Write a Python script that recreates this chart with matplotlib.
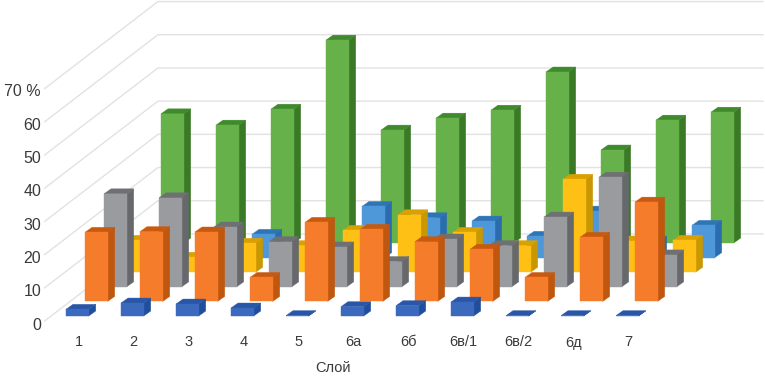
import matplotlib
matplotlib.use("Agg")
import matplotlib.pyplot as plt
from matplotlib.patches import Polygon

plt.rcParams['font.family'] = ['Liberation Sans', 'DejaVu Sans']

categories = ['1', '2', '3', '4', '5', '6а', '6б', '6в/1', '6в/2', '6д', '7']
axis_ticks = [0, 10, 20, 30, 40, 50, 60, 70]
axis_title = 'Слой'

# series, front to back
dark_blue = [2.0, 3.9, 3.6, 2.4, 0.1, 2.8, 3.1, 4.2, 0.1, 0.1, 0.1]
orange = [20.8, 21.0, 20.9, 7.2, 23.8, 21.7, 18.0, 15.7, 7.2, 19.3, 29.9]
gray = [28.0, 26.8, 18.0, 13.6, 12.0, 7.6, 14.4, 12.4, 21.0, 33.0, 9.6]
yellow = [9.6, 4.5, 8.7, 8.0, 12.6, 17.3, 12.0, 8.0, 28.0, 9.4, 9.6]
light_blue = [3.0, 3.0, 7.0, 3.0, 15.4, 12.0, 11.0, 6.4, 14.0, 5.0, 9.7]
green = [38.9, 35.5, 40.3, 61.1, 34.0, 37.6, 40.0, 51.5, 28.0, 37.0, 39.4]

series = [dark_blue, orange, gray, yellow, light_blue, green]
palette = [
    ('#3B69BE', '#1F4E9C', '#2A56A8'),
    ('#F57C2A', '#C0570F', '#C8590F'),
    ('#9A9B9E', '#66686C', '#6E7074'),
    ('#FFC015', '#C99700', '#D9A100'),
    ('#4E98DA', '#2A6CAE', '#2E75B6'),
    ('#67B14A', '#3A7A26', '#3F8A2C'),
]

# Figure layout: one axes filling the figure, x in categories, y in percent
W, H = 765, 376
PX_CAT, PX_VAL = 55.0, 3.32
X0_PX, Y0_PX = 66.0, 316.0
DEPTH_DX = 19.0 / PX_CAT      # shift per series, categories
DEPTH_DY = 14.6 / PX_VAL      # shift per series, percent
BAR_W = 22.7 / PX_CAT
BAR_DX = 7.0 / PX_CAT
BAR_DY = 5.0 / PX_VAL
WALL_CAT_L, WALL_CAT_R = -0.27, 10.73
FLOOR_D0, FLOOR_D1 = -0.34, 5.62

fig = plt.figure(figsize=(W / 100, H / 100), dpi=100)
ax = fig.add_axes([0, 0, 1, 1])
ax.set_xlim(-X0_PX / PX_CAT, (W - X0_PX) / PX_CAT)
ax.set_ylim((Y0_PX - H) / PX_VAL, Y0_PX / PX_VAL)
ax.axis('off')


def proj(cat, depth, val):
    return cat + depth * DEPTH_DX, val + depth * DEPTH_DY


# walls
for v in axis_ticks:
    a = proj(WALL_CAT_L, FLOOR_D0, v)
    b = proj(WALL_CAT_L, FLOOR_D1, v)
    c = proj(WALL_CAT_R, FLOOR_D1, v)
    ax.plot([a[0], b[0], c[0]], [a[1], b[1], c[1]], color='#E2E2E2', lw=1.0, zorder=1,
            solid_joinstyle='miter')

# bars, back to front
z = 2
for d in range(len(series) - 1, -1, -1):
    front, side, top = palette[d]
    for i, v in enumerate(series[d]):
        x, y0 = proj(i, d, 0)
        y1 = y0 + v
        x1 = x + BAR_W
        ax.add_patch(Polygon([(x1, y0), (x1 + BAR_DX, y0 + BAR_DY), (x1 + BAR_DX, y1 + BAR_DY), (x1, y1)],
                             fc=side, ec=side, lw=0.3, zorder=z))
        ax.add_patch(Polygon([(x, y1), (x1, y1), (x1 + BAR_DX, y1 + BAR_DY), (x + BAR_DX, y1 + BAR_DY)],
                             fc=top, ec=top, lw=0.3, zorder=z))
        ax.add_patch(Polygon([(x, y0), (x1, y0), (x1, y1), (x, y1)],
                             fc=front, ec=front, lw=0.3, zorder=z + 0.1))
    z += 1

# value labels
for v in axis_ticks:
    label = f'{v} %' if v == axis_ticks[-1] else str(v)
    px_y = 325 - 33.3 * v / 10
    ax.text((41 - X0_PX) / PX_CAT, (Y0_PX - px_y) / PX_VAL, label, ha='right', va='center',
            fontsize=11.5, color='#3A3A3A', zorder=50)

# category labels
for i, c in enumerate(categories):
    ax.text(i + BAR_W / 2 + 0.02, (Y0_PX - 342.5) / PX_VAL, c, ha='center', va='center',
            fontsize=10.5, color='#3A3A3A', zorder=50)

ax.text((333 - X0_PX) / PX_CAT, (Y0_PX - 368.5) / PX_VAL, axis_title, ha='center', va='center',
        fontsize=10.5, color='#3A3A3A', zorder=50)

fig.savefig('out.png', dpi=100)
